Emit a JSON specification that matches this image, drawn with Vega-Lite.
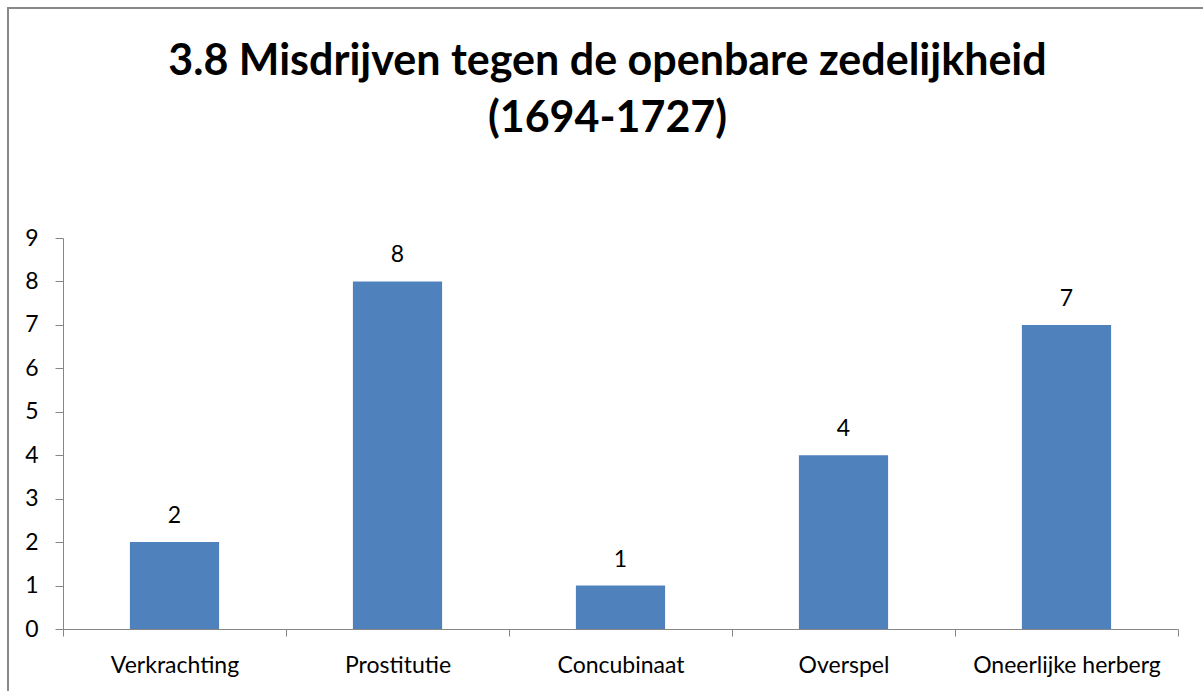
{
  "$schema": "https://vega.github.io/schema/vega-lite/v6.json",
  "width": 1199,
  "height": 687,
  "autosize": {"type": "none"},
  "padding": {"left": 8, "top": 8, "right": -4, "bottom": -4},
  "background": "white",
  "config": {
    "view": {"stroke": "#898989", "strokeWidth": 2},
    "font": "Lato"
  },
  "title": {
    "text": ["3.8 Misdrijven tegen de openbare zedelijkheid", "(1694-1727)"],
    "font": "Lato",
    "fontSize": 43,
    "fontWeight": "bold",
    "color": "black",
    "lineHeight": 57,
    "anchor": "middle",
    "frame": "group",
    "baseline": "top",
    "offset": -133
  },
  "data": {
    "values": [
      {"category": "Verkrachting", "count": 2},
      {"category": "Prostitutie", "count": 8},
      {"category": "Concubinaat", "count": 1},
      {"category": "Overspel", "count": 4},
      {"category": "Oneerlijke herberg", "count": 7}
    ]
  },
  "encoding": {
    "x": {
      "field": "category",
      "type": "nominal",
      "sort": null,
      "scale": {"range": [55, 1170], "paddingInner": 0, "paddingOuter": 0},
      "axis": {
        "title": null,
        "orient": "bottom",
        "offset": -66,
        "domainColor": "#868686",
        "tickColor": "#868686",
        "tickSize": 7,
        "tickBand": "extent",
        "labelAngle": 0,
        "labelFont": "Lato",
        "labelFontSize": 23,
        "labelColor": "black",
        "labelPadding": 18,
        "labelLimit": 0,
        "labelOverlap": false,
        "grid": false
      }
    },
    "y": {
      "field": "count",
      "type": "quantitative",
      "scale": {"domain": [0, 9], "range": [621, 230], "nice": false},
      "axis": {
        "title": null,
        "offset": -55,
        "values": [0, 1, 2, 3, 4, 5, 6, 7, 8, 9],
        "grid": false,
        "domainColor": "#868686",
        "tickColor": "#868686",
        "tickSize": 8,
        "labelPadding": 17,
        "labelFont": "Lato",
        "labelFontSize": 23,
        "labelColor": "black"
      }
    }
  },
  "layer": [
    {"mark": {"type": "bar", "color": "#4F81BD", "width": {"band": 0.4}}},
    {
      "mark": {"type": "text", "baseline": "alphabetic", "dy": -19, "fontSize": 23, "font": "Lato", "color": "black"},
      "encoding": {"text": {"field": "count", "type": "quantitative"}}
    }
  ]
}
